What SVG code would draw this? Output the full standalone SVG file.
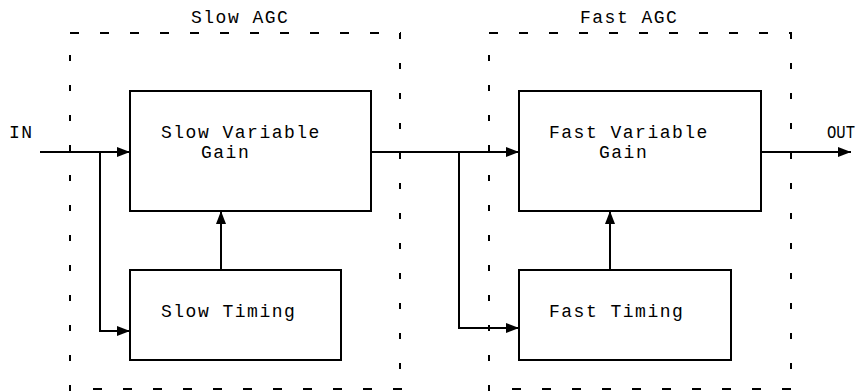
<svg xmlns="http://www.w3.org/2000/svg" width="860" height="391" viewBox="0 0 860 391">
<defs>
<marker id="arr" markerWidth="13" markerHeight="10" refX="13" refY="5" orient="auto" markerUnits="userSpaceOnUse">
<path d="M0,0 L13,5 L0,10 Z" fill="#000"/>
</marker>
<style>
text{font-family:"Liberation Mono","Courier New",monospace;font-size:18px;letter-spacing:1.5px;fill:#000}
.box{fill:#fff;stroke:#000;stroke-width:2}
.h{stroke:#000;stroke-width:2;stroke-dasharray:9 21;fill:none}
.v{stroke:#000;stroke-width:2;stroke-dasharray:6 24;fill:none}
.w{stroke:#000;stroke-width:2;fill:none}
</style>
</defs>
<rect width="860" height="391" fill="#fff"/>
<g id="slow-agc">
<line class="h" x1="70" y1="33" x2="401" y2="33"/>
<line class="h" x1="93" y1="389" x2="402" y2="389"/>
<line class="v" x1="70" y1="55" x2="70" y2="391"/>
<line class="v" x1="400" y1="33" x2="400" y2="382"/>
<text x="191" y="23">Slow AGC</text>
</g>
<g id="fast-agc">
<line class="h" x1="489" y1="33" x2="792" y2="33"/>
<line class="h" x1="512" y1="389" x2="793" y2="389"/>
<line class="v" x1="489" y1="55" x2="489" y2="391"/>
<line class="v" x1="791" y1="33" x2="791" y2="382"/>
<text x="580" y="23">Fast AGC</text>
</g>
<g id="connectors">
<path class="w" d="M40,152 H130" marker-end="url(#arr)"/>
<path class="w" d="M100,152 V331 H130" marker-end="url(#arr)"/>
<path class="w" d="M221,270 V211" marker-end="url(#arr)"/>
<path class="w" d="M371,152 H519" marker-end="url(#arr)"/>
<path class="w" d="M459,152 V328 H519" marker-end="url(#arr)"/>
<path class="w" d="M610,270 V211" marker-end="url(#arr)"/>
<path class="w" d="M761,152 H851" marker-end="url(#arr)"/>
</g>
<g id="in"><text x="9" y="138">IN</text></g>
<g id="out"><text x="827" y="138" style="letter-spacing:0" textLength="28" lengthAdjust="spacingAndGlyphs">OUT</text></g>
<g id="slow-gain">
<rect class="box" x="130" y="91" width="241" height="120"/>
<text x="161" y="138">Slow Variable</text>
<text x="201" y="158">Gain</text>
</g>
<g id="slow-timing">
<rect class="box" x="130" y="270" width="211" height="90"/>
<text x="161" y="317">Slow Timing</text>
</g>
<g id="fast-gain">
<rect class="box" x="519" y="91" width="242" height="120"/>
<text x="549" y="138">Fast Variable</text>
<text x="599" y="158">Gain</text>
</g>
<g id="fast-timing">
<rect class="box" x="519" y="270" width="212" height="90"/>
<text x="549" y="317">Fast Timing</text>
</g>
</svg>
